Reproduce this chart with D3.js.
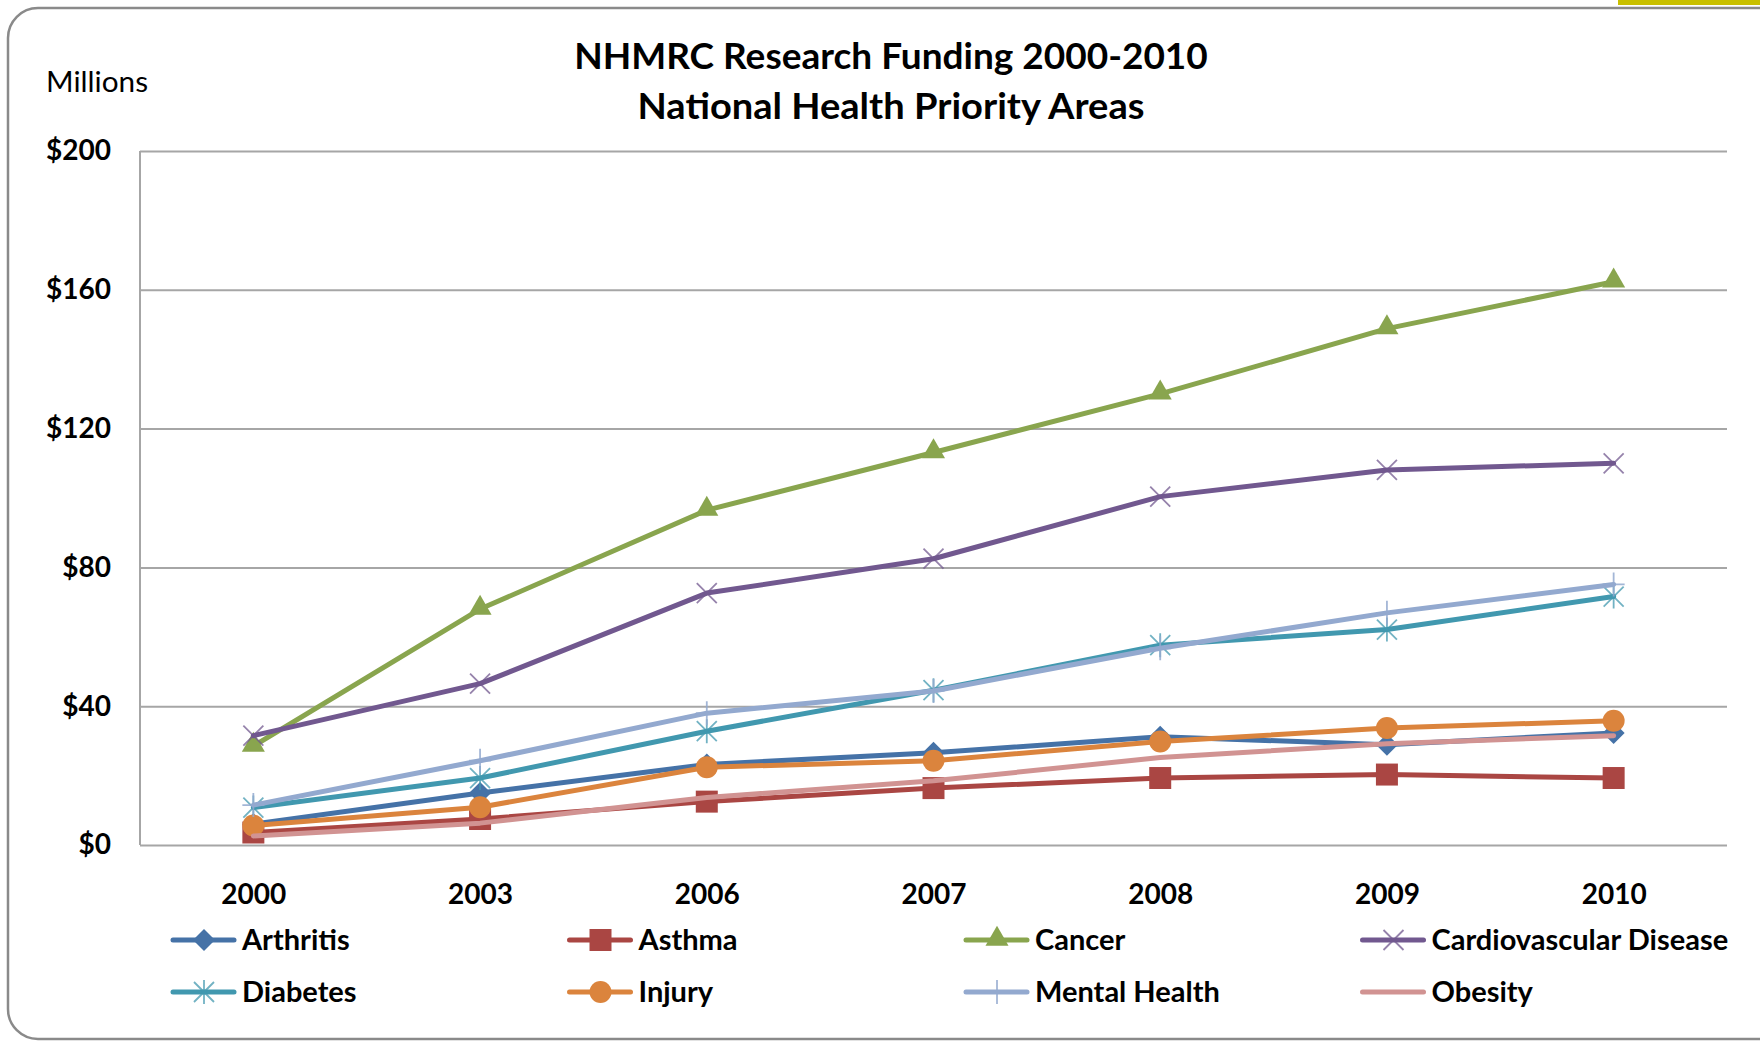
<!DOCTYPE html>
<html>
<head>
<meta charset="utf-8">
<script src="https://cdn.jsdelivr.net/npm/d3@7"></script>
<style>
  html, body { margin: 0; padding: 0; background: #ffffff; }
  svg { display: block; }
  text { font-family: Lato, "Open Sans", sans-serif; fill: #000; }
</style>
</head>
<body>
<svg id="chart" width="1760" height="1043"></svg>
<script>
// ---- data ----
const years = ["2000", "2003", "2006", "2007", "2008", "2009", "2010"];
const seriesNames = ["Arthritis", "Asthma", "Cancer", "Cardiovascular Disease",
                     "Diabetes", "Injury", "Mental Health", "Obesity"];
const arthritis     = [6.0, 15.0, 23.2, 26.6, 31.2, 28.9, 32.3];
const asthma        = [3.6, 7.5, 12.5, 16.4, 19.3, 20.3, 19.3];
const cancer        = [28.5, 68.0, 96.5, 113.1, 130.0, 148.8, 162.3];
const cardiovascular= [31.5, 46.5, 72.6, 82.5, 100.4, 108.1, 110.0];
const diabetes      = [10.8, 19.3, 32.8, 44.6, 57.6, 62.1, 71.6];
const injury        = [5.6, 10.9, 22.4, 24.3, 29.8, 33.7, 35.8];
const mentalHealth  = [11.5, 24.3, 38.0, 44.4, 56.7, 66.9, 75.1];
const obesity       = [2.6, 6.3, 13.7, 18.5, 25.2, 29.2, 31.5];
const yTicks = [0, 40, 80, 120, 160, 200];
const titleLines = ["NHMRC Research Funding 2000-2010", "National Health Priority Areas"];
const unitLabel = "Millions";

const seriesValues = [arthritis, asthma, cancer, cardiovascular, diabetes, injury, mentalHealth, obesity];
const colors = ["#4572A7", "#AA4643", "#89A54E", "#71588F", "#4198AF", "#DB843D", "#93A9CF", "#D19392"];
const markerTypes = ["diamond", "square", "triangle", "x", "asterisk", "circle", "plus", "none"];

// ---- layout ----
const svg = d3.select("#chart");
const plot = { left: 140, right: 1727, top: 151, bottom: 845 };

// background frame
svg.append("rect").attr("x", 8).attr("y", 8).attr("width", 1790).attr("height", 1031)
  .attr("rx", 30).attr("ry", 30)
  .attr("fill", "#ffffff").attr("stroke", "#8a8a8a").attr("stroke-width", 2.5);
svg.append("rect").attr("x", 1618).attr("y", 0).attr("width", 142).attr("height", 5)
  .attr("fill", "#C9C000");

const x = d3.scalePoint().domain(years).range([plot.left, plot.right]).padding(0.5);
const y = d3.scaleLinear().domain([0, 200]).range([plot.bottom, plot.top]);

// y axis + gridlines
const yAxis = svg.append("g").attr("transform", `translate(${plot.left},0)`)
  .call(d3.axisLeft(y).tickValues(yTicks).tickFormat(d => "$" + d)
        .tickSize(-(plot.right - plot.left)).tickPadding(29));
yAxis.select(".domain").remove();
yAxis.selectAll(".tick line").attr("stroke", "#a6a6a6").attr("stroke-width", 2);
yAxis.selectAll(".tick text").attr("font-size", 28).attr("font-weight", 700)
  .attr("font-family", "Lato, sans-serif").attr("fill", "#000");

// plot left border
svg.append("line").attr("x1", plot.left).attr("x2", plot.left)
  .attr("y1", plot.top).attr("y2", plot.bottom)
  .attr("stroke", "#a6a6a6").attr("stroke-width", 2);

// x axis labels
const xAxis = svg.append("g").attr("transform", `translate(0,${plot.bottom})`)
  .call(d3.axisBottom(x).tickSize(0).tickPadding(39));
xAxis.select(".domain").remove();
xAxis.selectAll(".tick text").attr("font-size", 28).attr("font-weight", 700)
  .attr("font-family", "Lato, sans-serif").attr("fill", "#000");

// titles
svg.append("text").attr("x", 891).attr("y", 69).attr("text-anchor", "middle")
  .attr("font-size", 37).attr("font-weight", 700).text(titleLines[0]);
svg.append("text").attr("x", 891).attr("y", 119).attr("text-anchor", "middle")
  .attr("font-size", 37).attr("font-weight", 700)
  .attr("textLength", 507).attr("lengthAdjust", "spacingAndGlyphs").text(titleLines[1]);
svg.append("text").attr("x", 46).attr("y", 92).attr("font-size", 29)
  .attr("textLength", 102).attr("lengthAdjust", "spacingAndGlyphs").text(unitLabel);

// markers
const diamondType = { draw(ctx, size) { const r = Math.sqrt(size / 2);
  ctx.moveTo(0, -r); ctx.lineTo(r, 0); ctx.lineTo(0, r); ctx.lineTo(-r, 0); ctx.closePath(); } };

function drawMarker(g, type, color) {
  if (type === "diamond") {
    g.append("path").attr("d", d3.symbol().type(diamondType).size(2 * 11 * 11)()).attr("fill", color);
  } else if (type === "square") {
    g.append("path").attr("d", d3.symbol().type(d3.symbolSquare).size(22 * 22)()).attr("fill", color);
  } else if (type === "triangle") {
    g.append("path").attr("d", d3.symbol().type(d3.symbolTriangle).size(230)()).attr("fill", color)
      .attr("transform", "translate(0,-1)");
  } else if (type === "circle") {
    g.append("path").attr("d", d3.symbol().type(d3.symbolCircle).size(Math.PI * 11 * 11)()).attr("fill", color);
  } else if (type === "x") {
    g.append("path").attr("d", "M-10,-10L10,10M-10,10L10,-10")
      .attr("stroke", color).attr("stroke-width", 1.8).attr("stroke-opacity", 0.75).attr("fill", "none");
  } else if (type === "asterisk") {
    g.append("path").attr("d", "M-10,-10L10,10M-10,10L10,-10M0,-12L0,12")
      .attr("stroke", color).attr("stroke-width", 1.8).attr("stroke-opacity", 0.75).attr("fill", "none");
  } else if (type === "plus") {
    g.append("path").attr("d", "M0,-12L0,12M-11,0L11,0")
      .attr("stroke", color).attr("stroke-width", 1.8).attr("stroke-opacity", 0.85).attr("fill", "none");
  }
}

const line = d3.line().x((d, i) => x(years[i])).y(d => y(d));

seriesValues.forEach((vals, si) => {
  const g = svg.append("g").attr("class", "series");
  g.append("path").datum(vals).attr("d", line)
    .attr("fill", "none").attr("stroke", colors[si]).attr("stroke-width", 5)
    .attr("stroke-linejoin", "round").attr("stroke-linecap", "round");
  vals.forEach((v, i) => {
    const mg = g.append("g").attr("transform", `translate(${x(years[i])},${y(v)})`);
    drawMarker(mg, markerTypes[si], colors[si]);
  });
});

// legend
const legendCols = [173, 569.5, 966, 1362.5];
const legendRows = [940, 992];
seriesNames.forEach((name, si) => {
  const col = si % 4, row = Math.floor(si / 4);
  const g = svg.append("g").attr("transform", `translate(${legendCols[col]},${legendRows[row]})`);
  g.append("line").attr("x1", 0).attr("x2", 61).attr("y1", 0).attr("y2", 0)
    .attr("stroke", colors[si]).attr("stroke-width", 5).attr("stroke-linecap", "round");
  const mg = g.append("g").attr("transform", "translate(31,0)");
  drawMarker(mg, markerTypes[si], colors[si]);
  g.append("text").attr("x", 69).attr("y", 10).attr("font-size", 29).attr("font-weight", 700).text(name);
});
</script>
</body>
</html>
